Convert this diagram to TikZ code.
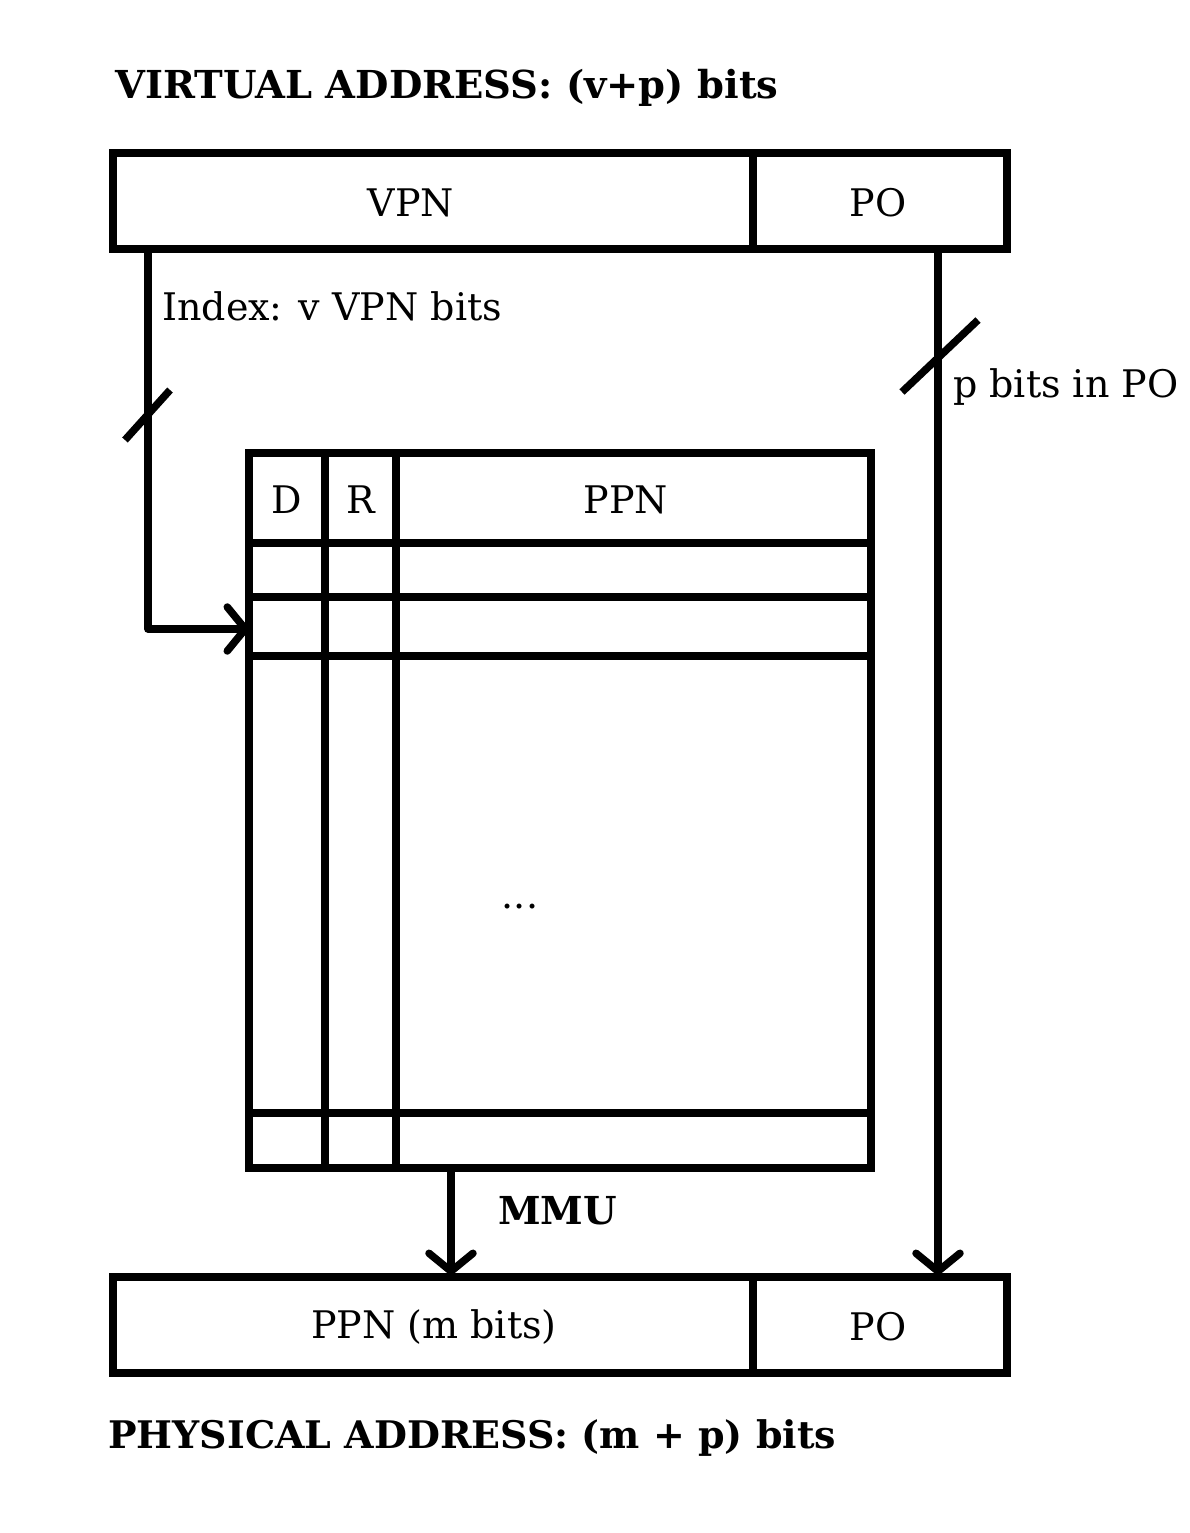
\documentclass[tikz,border=0pt]{standalone}
\usepackage{fontspec}
\setmainfont{DejaVu Serif}
\usetikzlibrary{arrows.meta}
\begin{document}
\begin{tikzpicture}[x=1pt,y=-1pt,
  thick line/.style={line width=7.5pt},
  barb/.style={-{Straight Barb[length=18pt,width=44pt,round]}},
  lbl/.style={font=\fontsize{38}{42}\selectfont, inner sep=0pt},
  cell/.style={draw, thick line, minimum height=96pt, inner sep=0pt, outer sep=0pt, anchor=north west},
  title/.style={font=\fontsize{38.5}{42}\selectfont\bfseries, inner sep=0pt, anchor=west},
  ]
\useasboundingbox (0,0) rectangle (1189,1533);
% titles
\node[title] (vt) at (115,88) {VIRTUAL ADDRESS: (v+p) bits};
\node[title, font=\fontsize{38}{42}\selectfont\bfseries] (pt) at (108,1438) {PHYSICAL ADDRESS: (m + p) bits};
% top box
\node[cell, minimum width=640pt] (vpn) at (113,153) {};
\node[cell, minimum width=254pt] (vpo) at (753,153) {};
\node[lbl] (vpnt) at (411,203) {VPN};
\node[lbl] (vpot) at (878,203) {PO};
% bottom box
\node[cell, minimum width=640pt] (ppn) at (113,1277) {};
\node[cell, minimum width=254pt] (ppo) at (753,1277) {};
\node[lbl] (ppnt) at (434,1327) {PPN (m bits)};
\node[lbl] (ppot) at (878,1327) {PO};
% table
\node[draw, thick line, minimum width=622pt, minimum height=715pt, inner sep=0pt, outer sep=0pt, anchor=north west] (tbl) at (249,453) {};
\draw[thick line] (325,453) -- (325,1168);
\draw[thick line] (396,453) -- (396,1168);
\foreach \yy in {543,597,656,1113} \draw[thick line] (249,\yy) -- (871,\yy);
\node[lbl] (d) at (287,500) {D};
\node[lbl] (r) at (361,500) {R};
\node[lbl] (tp) at (626,500) {PPN};
\node[lbl] (dots) at (520,907) {...};
% left index path
\coordinate (li) at (148,249);
\coordinate (lc) at (148,629);
\coordinate (le) at (249,629);
\draw[thick line, barb, line join=round] (li) -- (lc) -- (le);
\coordinate (s1a) at (125,440); \coordinate (s1b) at (170,390);
\draw[thick line] (s1a) -- (s1b);
\node[lbl, anchor=west] (idx) at (162,306) {Index: v VPN bits};
% right PO path
\coordinate (ri) at (938,249);
\coordinate (re) at (938,1275);
\draw[thick line, barb] (ri) -- (re);
\coordinate (s2a) at (902,392); \coordinate (s2b) at (978,320);
\draw[thick line] (s2a) -- (s2b);
\node[lbl, anchor=west] (pb) at (953,387) {p bits in PO};
% MMU arrow
\coordinate (ms) at (451,1168);
\coordinate (me) at (451,1275);
\draw[thick line, barb] (ms) -- (me);
\node[title, anchor=west] (mmu) at (498,1211) {MMU};
\end{tikzpicture}
\end{document}
